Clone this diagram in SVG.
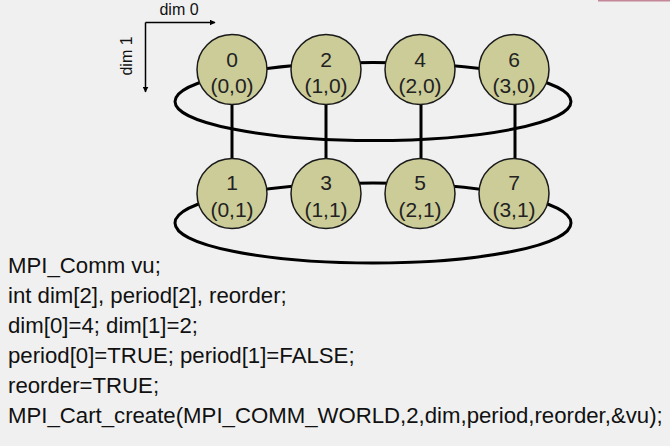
<svg xmlns="http://www.w3.org/2000/svg" width="670" height="446" viewBox="0 0 670 446">
<style>
.bg{fill:#f0f0f0}
.ring{fill:none;stroke:#000;stroke-width:3}
.link{stroke:#000;stroke-width:3}
.axis{stroke:#000;stroke-width:1.5;fill:none}
.node circle{fill:#cccc99;stroke:#1a1a1a;stroke-width:1.5}
.node text{font-family:"Liberation Sans",Arial,sans-serif;font-size:21px;fill:#222;text-anchor:middle}
.lbl{font-family:"Liberation Sans",Arial,sans-serif;font-size:16px;fill:#111;text-anchor:middle}
.code{font-family:"Liberation Sans",Arial,sans-serif;font-size:22.2px;fill:#111}
</style>
<defs>
<marker id="arr" viewBox="0 0 10 10" refX="9" refY="5" markerWidth="6" markerHeight="6" markerUnits="userSpaceOnUse" orient="auto">
<path d="M0,0 L10,5 L0,10 z" fill="#000"/>
</marker>
</defs>
<rect class="bg" x="0" y="0" width="670" height="446"/>
<rect x="598" y="0" width="72" height="1.5" fill="#c4879a"/>

<g id="axes">
<line class="axis" x1="145.5" y1="22.5" x2="215" y2="22.5" marker-end="url(#arr)"/>
<line class="axis" x1="145.5" y1="22.5" x2="145.5" y2="92" marker-end="url(#arr)"/>
<text class="lbl" x="179" y="14.5">dim 0</text>
<text class="lbl" transform="translate(132,56) rotate(-90)">dim 1</text>
</g>

<g id="connectors">
<ellipse class="ring" cx="373" cy="101.5" rx="198" ry="39"/>
<ellipse class="ring" cx="373" cy="223" rx="198" ry="40"/>
<line class="link" x1="232" y1="104" x2="232" y2="159"/>
<line class="link" x1="326" y1="104" x2="326" y2="159"/>
<line class="link" x1="421" y1="104" x2="421" y2="159"/>
<line class="link" x1="515" y1="104" x2="515" y2="159"/>
</g>

<g id="node0" class="node"><circle cx="232" cy="69.5" r="35"/><text x="232" y="67">0</text><text x="232" y="93">(0,0)</text></g>
<g id="node2" class="node"><circle cx="326" cy="69.5" r="35"/><text x="326" y="67">2</text><text x="326" y="93">(1,0)</text></g>
<g id="node4" class="node"><circle cx="420" cy="69.5" r="35"/><text x="420" y="67">4</text><text x="420" y="93">(2,0)</text></g>
<g id="node6" class="node"><circle cx="514" cy="69.5" r="35"/><text x="514" y="67">6</text><text x="514" y="93">(3,0)</text></g>
<g id="node1" class="node"><circle cx="232" cy="193.5" r="35"/><text x="232" y="190">1</text><text x="232" y="217">(0,1)</text></g>
<g id="node3" class="node"><circle cx="326" cy="193.5" r="35"/><text x="326" y="190">3</text><text x="326" y="217">(1,1)</text></g>
<g id="node5" class="node"><circle cx="420" cy="193.5" r="35"/><text x="420" y="190">5</text><text x="420" y="217">(2,1)</text></g>
<g id="node7" class="node"><circle cx="514" cy="193.5" r="35"/><text x="514" y="190">7</text><text x="514" y="217">(3,1)</text></g>

<g id="code">
<text class="code" x="8" y="273">MPI_Comm vu;</text>
<text class="code" x="8" y="303">int dim[2], period[2], reorder;</text>
<text class="code" x="8" y="333">dim[0]=4; dim[1]=2;</text>
<text class="code" x="8" y="363">period[0]=TRUE; period[1]=FALSE;</text>
<text class="code" x="8" y="393">reorder=TRUE;</text>
<text class="code" x="8" y="423">MPI_Cart_create(MPI_COMM_WORLD,2,dim,period,reorder,&amp;vu);</text>
</g>
</svg>
